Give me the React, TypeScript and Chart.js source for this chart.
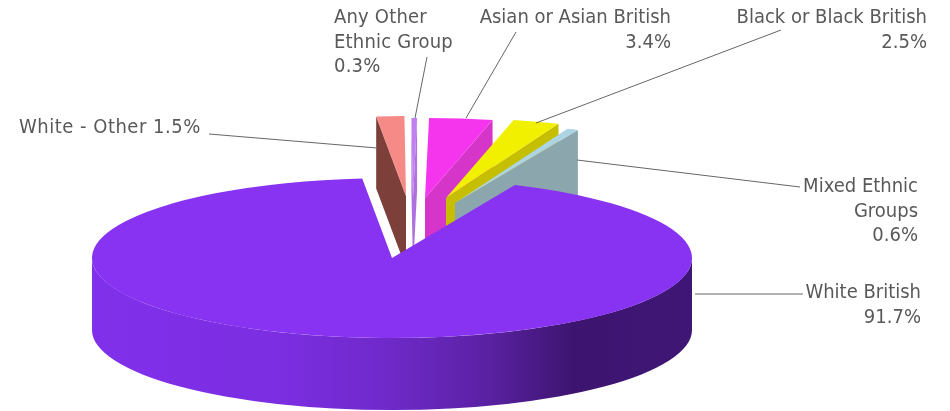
import React, { useEffect, useRef } from "react";
import { Chart, registerables } from "chart.js";

Chart.register(...registerables);

// Ethnic breakdown, clockwise from the end of the large slice's cut
const categories = [
  "White British",
  "White - Other",
  "Any Other Ethnic Group",
  "Asian or Asian British",
  "Black or Black British",
  "Mixed Ethnic Groups",
];
const shares = [91.7, 1.5, 0.3, 3.4, 2.5, 0.6];

const topColors = ["#8833F2", "#F58A86", "#C080F0", "#F535EE", "#F0F000", "#ADD4E2"];
const faceColors = ["#3E1673", "#7C3F3A", "#B070E0", "#D535C8", "#C6BE00", "#8CA6AE"];

// How far each slice is pulled out of the pie, [dx, dy] in canvas pixels
const explode: [number, number][] = [
  [0, 0],
  [14, -62],
  [21, -60],
  [33, -60],
  [54, -60],
  [63, -55],
];

const ROTATION = 24.18;
const DEPTH = 72;
const FONT = 'condensed 20px "DejaVu Sans"';
const TEXT_COLOR = "#595959";
const LEADER_COLOR = "#666666";
const LINE_HEIGHT = 24.3;

type Callout = {
  lines: string[];
  x: number;
  y: number;
  align: CanvasTextAlign;
  from: [number, number];
  to: [number, number];
  tracking?: string;
};

const pct = (i: number) => `${shares[i].toFixed(1)}%`;

const callouts: Callout[] = [
  { lines: ["White British", pct(0)], x: 921, y: 293, align: "right", from: [803, 294], to: [695, 294] },
  { lines: [`White - Other ${pct(1)}`], x: 19, y: 128, align: "left", from: [209, 134], to: [377, 148], tracking: "0.5px" },
  { lines: ["Any Other", "Ethnic Group", pct(2)], x: 334, y: 18, align: "left", from: [427, 57], to: [415, 118], tracking: "0.2px" },
  { lines: ["Asian or Asian British", pct(3)], x: 671, y: 18, align: "right", from: [516, 32], to: [466, 118] },
  { lines: ["Black or Black British", pct(4)], x: 927, y: 18, align: "right", from: [781, 30], to: [536, 123] },
  { lines: ["Mixed Ethnic", "Groups", pct(5)], x: 918, y: 187, align: "right", from: [800, 187], to: [577, 160] },
];

// Signed angle from the top of the pie, clockwise positive, in (-PI, PI]
const fromTop = (a: number) => {
  const t = (a + Math.PI / 2) % (2 * Math.PI);
  if (t > Math.PI) return t - 2 * Math.PI;
  if (t <= -Math.PI) return t + 2 * Math.PI;
  return t;
};

// Draws the arcs as a tilted solid: the chart area is wider than it is tall,
// so the radius of each arc is stretched into an ellipse on the x axis.
const pie3d = {
  id: "pie3d",
  beforeDatasetsDraw(chart: Chart) {
    const { ctx, chartArea } = chart;
    const arcs = chart.getDatasetMeta(0).data as any[];
    const rx = (chartArea.right - chartArea.left) / 2;
    const scaleX = (r: number) => rx * (r / arcs[0].outerRadius);

    const sector = (cx: number, cy: number, r: number, a0: number, a1: number) => {
      ctx.beginPath();
      ctx.moveTo(cx, cy);
      ctx.ellipse(cx, cy, scaleX(r), r, 0, a0, a1);
      ctx.closePath();
    };

    const cutFace = (cx: number, cy: number, r: number, a: number, fill: string) => {
      const px = cx + scaleX(r) * Math.cos(a);
      const py = cy + r * Math.sin(a);
      ctx.beginPath();
      ctx.moveTo(cx, cy);
      ctx.lineTo(px, py);
      ctx.lineTo(px, py + DEPTH);
      ctx.lineTo(cx, cy + DEPTH);
      ctx.closePath();
      ctx.fillStyle = fill;
      ctx.fill();
    };

    ctx.save();

    // Pulled-out slices sit behind the large one
    for (let i = 1; i < arcs.length; i++) {
      const { x, y, outerRadius, startAngle, endAngle } = arcs[i].getProps(
        ["x", "y", "outerRadius", "startAngle", "endAngle"],
        true
      );
      const cx = x + explode[i][0];
      const cy = y + explode[i][1];
      if (fromTop(startAngle) < 0) cutFace(cx, cy, outerRadius, startAngle, faceColors[i]);
      if (fromTop(endAngle) > 0) cutFace(cx, cy, outerRadius, endAngle, faceColors[i]);
      sector(cx, cy, outerRadius, startAngle, endAngle);
      ctx.fillStyle = topColors[i];
      ctx.fill();
    }

    // Large slice: rim first, then its top
    const main = arcs[0].getProps(["x", "y", "outerRadius", "startAngle", "endAngle"], true);
    const left = main.x - rx;
    const right = main.x + rx;
    const rim = ctx.createLinearGradient(left, 0, right, 0);
    rim.addColorStop(0, "#8030EA");
    rim.addColorStop(0.3, "#7C2EE2");
    rim.addColorStop(0.5, "#6E29C8");
    rim.addColorStop(0.66, "#5A21A2");
    rim.addColorStop(0.8, "#3D1570");
    rim.addColorStop(1, "#3F1675");
    ctx.beginPath();
    ctx.ellipse(main.x, main.y, rx, main.outerRadius, 0, 0, Math.PI);
    ctx.lineTo(left, main.y + DEPTH);
    ctx.ellipse(main.x, main.y + DEPTH, rx, main.outerRadius, 0, Math.PI, 0, true);
    ctx.closePath();
    ctx.fillStyle = rim;
    ctx.fill();

    sector(main.x, main.y, main.outerRadius, main.startAngle, main.endAngle);
    ctx.fillStyle = topColors[0];
    ctx.fill();

    ctx.restore();
    return false;
  },
  afterDraw(chart: Chart) {
    const { ctx } = chart;
    ctx.save();
    ctx.strokeStyle = LEADER_COLOR;
    ctx.lineWidth = 1;
    ctx.font = FONT;
    ctx.fillStyle = TEXT_COLOR;
    ctx.textBaseline = "middle";
    for (const c of callouts) {
      ctx.beginPath();
      ctx.moveTo(c.from[0], c.from[1]);
      ctx.lineTo(c.to[0], c.to[1]);
      ctx.stroke();
      ctx.textAlign = c.align;
      (ctx as any).letterSpacing = c.tracking ?? "0px";
      c.lines.forEach((line, i) => ctx.fillText(line, c.x, c.y + i * LINE_HEIGHT));
    }
    ctx.restore();
  },
};

export default function App() {
  const ref = useRef<HTMLCanvasElement>(null);

  useEffect(() => {
    if (!ref.current) return;
    const chart = new Chart(ref.current, {
      type: "pie",
      data: {
        labels: categories,
        datasets: [{ data: shares, backgroundColor: topColors, borderWidth: 0 }],
      },
      options: {
        responsive: false,
        animation: false,
        rotation: ROTATION,
        layout: { padding: { left: 92, right: 258, top: 178, bottom: 73 } },
        plugins: { legend: { display: false }, tooltip: { enabled: false } },
      },
      plugins: [pie3d as any],
    });
    return () => chart.destroy();
  }, []);

  return (
    <div style={{ position: "absolute", left: 0, top: 0, width: 950, height: 411 }}>
      <canvas ref={ref} width={950} height={411} style={{ display: "block" }} />
    </div>
  );
}
